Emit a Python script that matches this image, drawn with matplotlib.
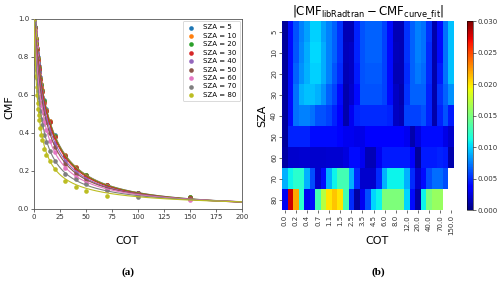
import numpy as np
import matplotlib
matplotlib.use('Agg')
import matplotlib.pyplot as plt

# ---------------- data ----------------
cot = [0, 0.1, 0.2, 0.3, 0.4, 0.5, 0.7, 0.9, 1.1, 1.3, 1.5, 2, 2.5, 3, 3.5, 4, 4.5, 5,
       6, 7, 8, 10, 12, 15, 20, 30, 40, 50, 70, 100, 150]
cot_labels = ['0.0', '0.1', '0.2', '0.3', '0.4', '0.5', '0.7', '0.9', '1.1', '1.3', '1.5',
              '2.0', '2.5', '3.0', '3.5', '4.0', '4.5', '5.0', '6.0', '7.0', '8.0', '10.0',
              '12.0', '15.0', '20.0', '30.0', '40.0', '50.0', '70.0', '100.0', '150.0']
sza = [5, 10, 20, 30, 40, 50, 60, 70, 80]

cmf_5 = [1.000, 0.990, 0.981, 0.973, 0.965, 0.957, 0.944, 0.932, 0.922, 0.911, 0.902, 0.874,
         0.849, 0.822, 0.797, 0.773, 0.751, 0.731, 0.692, 0.658, 0.627, 0.572, 0.524, 0.465,
         0.387, 0.284, 0.219, 0.179, 0.128, 0.084, 0.062]
cmf_10 = [1.000, 0.990, 0.981, 0.972, 0.964, 0.957, 0.944, 0.932, 0.921, 0.910, 0.900, 0.872,
          0.847, 0.820, 0.795, 0.771, 0.749, 0.729, 0.690, 0.656, 0.625, 0.570, 0.522, 0.463,
          0.386, 0.283, 0.219, 0.178, 0.127, 0.084, 0.062]
cmf_20 = [1.000, 0.990, 0.980, 0.971, 0.963, 0.955, 0.942, 0.929, 0.918, 0.907, 0.896, 0.868,
          0.842, 0.815, 0.790, 0.766, 0.744, 0.724, 0.685, 0.651, 0.620, 0.566, 0.518, 0.459,
          0.383, 0.281, 0.217, 0.177, 0.127, 0.084, 0.061]
cmf_30 = [1.000, 0.990, 0.979, 0.969, 0.960, 0.952, 0.938, 0.925, 0.913, 0.901, 0.890, 0.862,
          0.835, 0.808, 0.783, 0.759, 0.737, 0.716, 0.678, 0.644, 0.613, 0.560, 0.513, 0.455,
          0.380, 0.280, 0.216, 0.176, 0.126, 0.085, 0.060]
cmf_40 = [1.000, 0.989, 0.977, 0.969, 0.961, 0.954, 0.940, 0.926, 0.913, 0.900, 0.885, 0.853,
          0.822, 0.794, 0.768, 0.743, 0.720, 0.697, 0.656, 0.619, 0.588, 0.531, 0.480, 0.419,
          0.345, 0.252, 0.197, 0.161, 0.119, 0.084, 0.053]
cmf_50 = [1.000, 0.986, 0.977, 0.968, 0.959, 0.952, 0.935, 0.919, 0.903, 0.888, 0.873, 0.838,
          0.806, 0.776, 0.747, 0.721, 0.697, 0.674, 0.632, 0.594, 0.560, 0.503, 0.455, 0.398,
          0.327, 0.238, 0.185, 0.151, 0.116, 0.082, 0.053]
cmf_60 = [1.000, 0.987, 0.976, 0.965, 0.954, 0.944, 0.924, 0.904, 0.886, 0.868, 0.851, 0.811,
          0.773, 0.739, 0.710, 0.682, 0.656, 0.631, 0.586, 0.547, 0.514, 0.457, 0.413, 0.359,
          0.298, 0.215, 0.169, 0.138, 0.100, 0.070, 0.047]
cmf_70 = [0.991, 0.974, 0.958, 0.943, 0.932, 0.922, 0.904, 0.881, 0.863, 0.843, 0.824, 0.777,
          0.731, 0.690, 0.653, 0.618, 0.591, 0.563, 0.515, 0.475, 0.443, 0.390, 0.351, 0.307,
          0.254, 0.185, 0.157, 0.133, 0.102, 0.064]
cmf_80 = [0.997, 0.949, 0.932, 0.921, 0.916, 0.898, 0.872, 0.843, 0.816, 0.789, 0.763, 0.700,
          0.644, 0.597, 0.560, 0.526, 0.495, 0.469, 0.424, 0.390, 0.361, 0.315, 0.285, 0.252,
          0.212, 0.147, 0.113, 0.093, 0.068]
cmf_all = [cmf_5, cmf_10, cmf_20, cmf_30, cmf_40, cmf_50, cmf_60, cmf_70, cmf_80]

# curve_fit parameters of CMF = (1 + a*COT)^(-p)
fit_a = [0.0500, 0.0505, 0.0520, 0.0540, 0.065, 0.080, 0.110, 0.170, 0.300]
fit_p = [1.370, 1.368, 1.360, 1.350, 1.260, 1.160, 1.040, 0.920, 0.800]

nan = np.nan
res_5 = [0.0008, 0.0040, 0.0061, 0.0075, 0.0085, 0.0099, 0.0099, 0.0085, 0.0075, 0.0066, 0.0052,
         0.0015, 0.0015, 0.0047, 0.0061, 0.0066, 0.0066, 0.0066, 0.0057, 0.0040, 0.0015, 0.0015,
         0.0052, 0.0066, 0.0075, 0.0071, 0.0052, 0.0012, 0.0040, 0.0071, 0.0094]
res_10 = [0.0008, 0.0040, 0.0063, 0.0078, 0.0088, 0.0101, 0.0101, 0.0088, 0.0076, 0.0066, 0.0052,
          0.0016, 0.0018, 0.0047, 0.0061, 0.0066, 0.0066, 0.0066, 0.0057, 0.0040, 0.0016, 0.0015,
          0.0052, 0.0066, 0.0075, 0.0071, 0.0050, 0.0012, 0.0040, 0.0071, 0.0094]
res_20 = [0.0008, 0.0040, 0.0066, 0.0080, 0.0090, 0.0099, 0.0099, 0.0088, 0.0075, 0.0063, 0.0050,
          0.0015, 0.0018, 0.0045, 0.0061, 0.0064, 0.0064, 0.0064, 0.0057, 0.0040, 0.0015, 0.0015,
          0.0050, 0.0066, 0.0073, 0.0069, 0.0050, 0.0012, 0.0045, 0.0071, 0.0094]
res_30 = [0.0008, 0.0040, 0.0071, 0.0090, 0.0094, 0.0094, 0.0090, 0.0080, 0.0066, 0.0057, 0.0040,
          0.0012, 0.0020, 0.0040, 0.0061, 0.0061, 0.0061, 0.0061, 0.0057, 0.0040, 0.0018, 0.0012,
          0.0052, 0.0066, 0.0066, 0.0066, 0.0047, 0.0012, 0.0052, 0.0066, 0.0080]
res_40 = [0.0008, 0.0040, 0.0071, 0.0075, 0.0075, 0.0071, 0.0061, 0.0061, 0.0057, 0.0047, 0.0035,
          0.0012, 0.0030, 0.0047, 0.0050, 0.0050, 0.0050, 0.0050, 0.0050, 0.0047, 0.0018, 0.0015,
          0.0057, 0.0057, 0.0057, 0.0061, 0.0047, 0.0012, 0.0047, 0.0061, 0.0045]
res_50 = [0.0008, 0.0047, 0.0047, 0.0047, 0.0047, 0.0040, 0.0040, 0.0040, 0.0040, 0.0040, 0.0038,
          0.0030, 0.0030, 0.0028, 0.0028, 0.0035, 0.0035, 0.0035, 0.0035, 0.0035, 0.0035, 0.0035,
          0.0030, 0.0012, 0.0025, 0.0040, 0.0040, 0.0040, 0.0040, 0.0028, 0.0020]
res_60 = [0.0010, 0.0020, 0.0020, 0.0022, 0.0022, 0.0020, 0.0020, 0.0020, 0.0022, 0.0022, 0.0022,
          0.0025, 0.0040, 0.0040, 0.0030, 0.0015, 0.0015, 0.0030, 0.0045, 0.0045, 0.0045, 0.0045,
          0.0045, 0.0035, 0.0008, 0.0045, 0.0045, 0.0045, 0.0047, 0.0045, 0.0012]
res_70 = [0.0090, 0.0110, 0.0120, 0.0120, 0.0090, 0.0060, 0.0020, 0.0040, 0.0090, 0.0110, 0.0130,
          0.0130, 0.0090, 0.0050, 0.0020, 0.0020, 0.0020, 0.0050, 0.0090, 0.0110, 0.0110, 0.0110,
          0.0090, 0.0050, 0.0020, 0.0040, 0.0060, 0.0070, 0.0070, 0.0060, nan]
res_80 = [0.0030, 0.0280, 0.0220, 0.0120, 0.0030, 0.0040, 0.0130, 0.0170, 0.0200, 0.0210, 0.0200,
          0.0130, 0.0050, 0.0010, 0.0030, 0.0060, 0.0100, 0.0110, 0.0150, 0.0150, 0.0150, 0.0150,
          0.0100, 0.0040, 0.0010, 0.0110, 0.0150, 0.0160, 0.0160, nan, nan]
res_all = [res_5, res_10, res_20, res_30, res_40, res_50, res_60, res_70, res_80]

colors = ['#1f77b4', '#ff7f0e', '#2ca02c', '#d62728', '#9467bd',
          '#8c564b', '#e377c2', '#7f7f7f', '#bcbd22']

# ---------------- figure ----------------
fig = plt.figure(figsize=(5, 2.82), dpi=100)

# ----- panel (a) -----
ax1 = fig.add_axes([0.068, 0.259, 0.416, 0.674])
xc = np.linspace(0, 200, 500)
for s, vals, a, p, c in zip(sza, cmf_all, fit_a, fit_p, colors):
    ax1.scatter(cot[:len(vals)], vals, s=11, color=c, label=f'SZA = {s}', zorder=2,
                linewidths=0)
for s, a, p, c in zip(sza, fit_a, fit_p, colors):
    ax1.plot(xc, (1 + a * xc) ** (-p), color=c, lw=0.8, zorder=3)
ax1.set_xlim(0, 200)
ax1.set_ylim(0, 1.0)
ax1.set_xticks(np.arange(0, 201, 25))
ax1.set_yticks(np.arange(0, 1.01, 0.2))
ax1.set_yticklabels([f'{v:.1f}' for v in np.arange(0, 1.01, 0.2)])
ax1.tick_params(labelsize=5, length=2, width=0.5, pad=1.5, colors='#333333')
for sp in ax1.spines.values():
    sp.set_linewidth(0.6)
    sp.set_color('#555555')
leg = ax1.legend(loc='upper right', fontsize=5, labelspacing=0.35, handletextpad=1.2,
                 borderpad=0.5, handlelength=1.2, markerscale=1.0, framealpha=1,
                 borderaxespad=0.3)
leg.get_frame().set_linewidth(0.5)
fig.text(0.018, 0.62, 'CMF', rotation=90, ha='center', va='center', fontsize=8)
fig.text(0.255, 0.145, 'COT', ha='center', va='center', fontsize=8)
fig.text(0.255, 0.035, '(a)', ha='center', va='center', fontsize=8,
         family='Liberation Serif', weight='bold')

# ----- panel (b) -----
ax2 = fig.add_axes([0.564, 0.255, 0.344, 0.670])
cax = fig.add_axes([0.934, 0.255, 0.012, 0.670])
data = np.ma.masked_invalid(np.array(res_all, dtype=float))
mesh = ax2.pcolormesh(np.arange(len(cot) + 1), np.arange(len(sza) + 1), data,
                      cmap='jet', vmin=0, vmax=0.03)
ax2.set_xlim(0, len(cot))
ax2.set_ylim(len(sza), 0)
xt = np.arange(0, len(cot), 2)
ax2.set_xticks(xt + 0.5)
ax2.set_xticklabels([cot_labels[i] for i in xt], rotation=90)
ax2.set_yticks(np.arange(len(sza)) + 0.5)
ax2.set_yticklabels([str(s) for s in sza], rotation=90, va='center')
ax2.tick_params(labelsize=5, length=2, width=0.5, pad=1.5, colors='#333333')
for sp in ax2.spines.values():
    sp.set_visible(False)
ax2.set_title(r'$|\mathrm{CMF}_{\mathrm{libRadtran}} - \mathrm{CMF}_{\mathrm{curve\_fit}}|$',
              fontsize=8.5, pad=3)
cb = fig.colorbar(mesh, cax=cax, ticks=np.arange(0, 0.0301, 0.005))
cb.ax.set_yticklabels([f'{v:.3f}' for v in np.arange(0, 0.0301, 0.005)])
cb.ax.tick_params(labelsize=5, length=2, width=0.5, pad=1.5, colors='#333333')
cb.outline.set_linewidth(0.4)
fig.text(0.524, 0.59, 'SZA', rotation=90, ha='center', va='center', fontsize=8)
fig.text(0.754, 0.145, 'COT', ha='center', va='center', fontsize=8)
fig.text(0.756, 0.035, '(b)', ha='center', va='center', fontsize=8,
         family='Liberation Serif', weight='bold')

fig.savefig('out.png', dpi=100)
